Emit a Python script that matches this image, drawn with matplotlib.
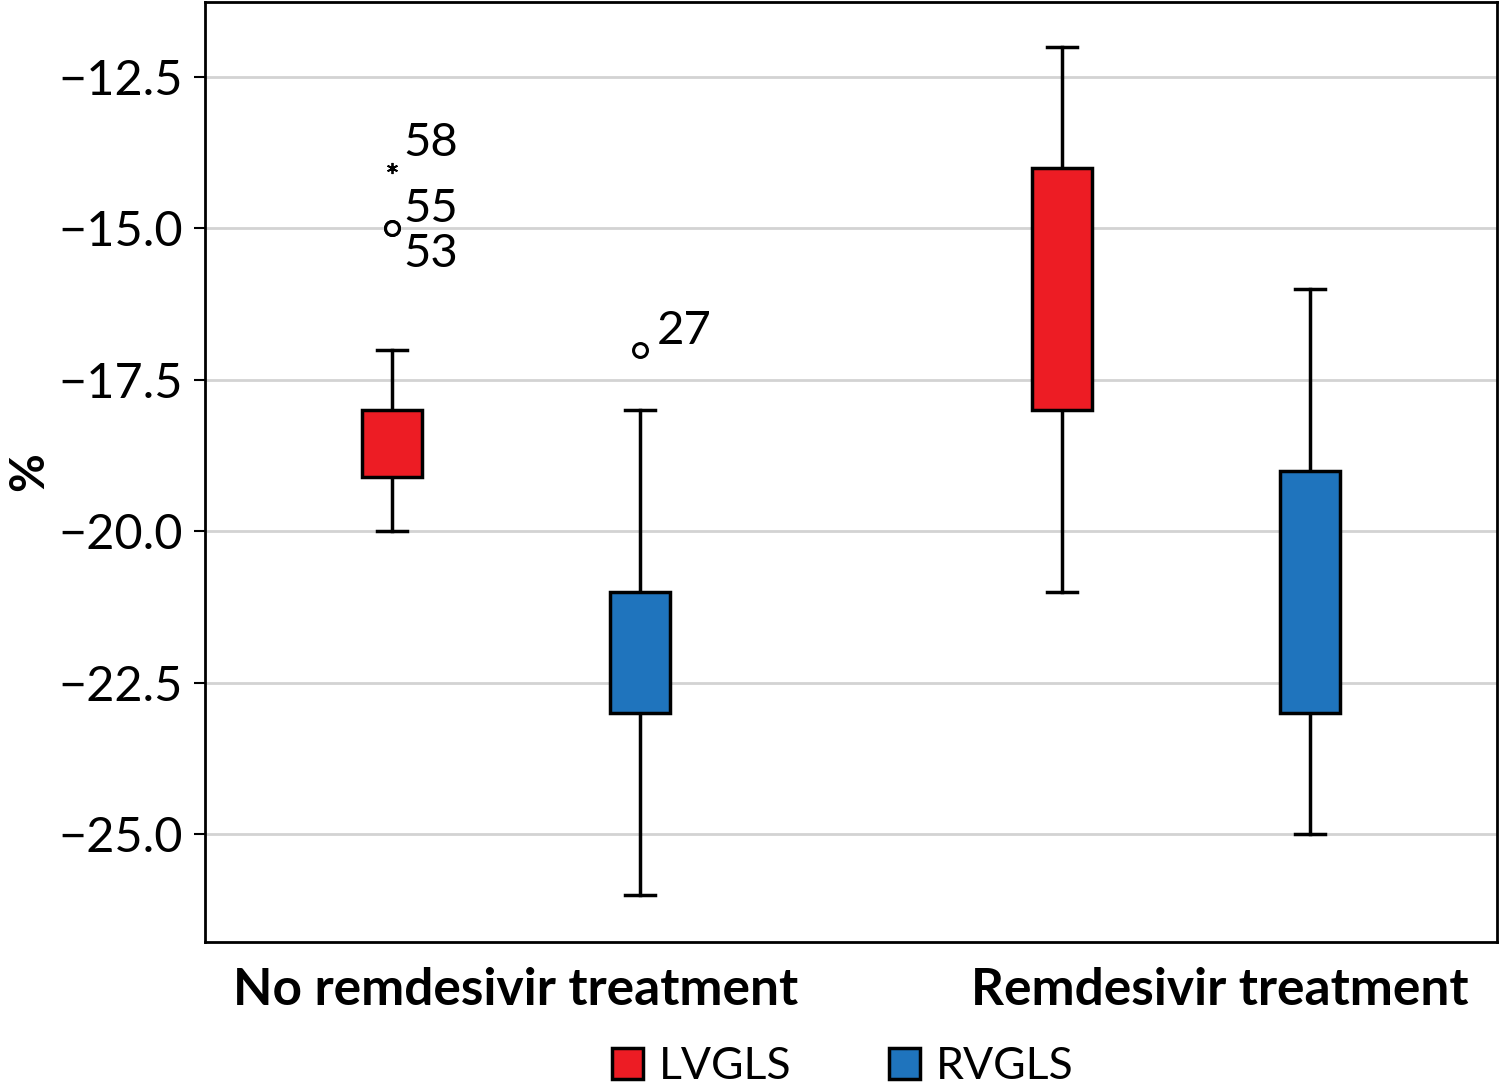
import matplotlib.pyplot as plt
import matplotlib.transforms as mtransforms
from matplotlib.patches import Patch

plt.rcParams['font.family'] = ['Lato', 'DejaVu Sans']

grupos = ["No remdesivir treatment", "Remdesivir treatment"]
series = ["LVGLS", "RVGLS"]
cores = ["#ed1c24", "#1f74bd"]

# estatisticas: [sem remdesivir, com remdesivir]
whislo = {"LVGLS": [-20.0, -21.0], "RVGLS": [-26.0, -25.0]}
q1 = {"LVGLS": [-19.1, -18.0], "RVGLS": [-23.0, -23.0]}
med = {"LVGLS": [-19.0, -16.9], "RVGLS": [-22.0, -21.0]}
q3 = {"LVGLS": [-18.0, -14.0], "RVGLS": [-21.0, -19.0]}
whishi = {"LVGLS": [-17.0, -12.0], "RVGLS": [-18.0, -16.0]}

# outliers: (serie, grupo, valor, tipo, rotulo)
outliers = [
    ("LVGLS", 0, -14.0, "extremo", "58"),
    ("LVGLS", 0, -15.0, "outlier", "55"),
    ("LVGLS", 0, -15.0, "outlier", "53"),
    ("RVGLS", 0, -17.0, "outlier", "27"),
]

fig = plt.figure(figsize=(15, 10.85), dpi=100)
ax = fig.add_axes([0.1367, 0.1318, 0.8613, 0.8664])

desloc = {"LVGLS": -0.185, "RVGLS": 0.185}
largura = 0.09

for s, cor in zip(series, cores):
    stats = []
    for g in range(len(grupos)):
        stats.append(dict(whislo=whislo[s][g], q1=q1[s][g], med=med[s][g],
                          q3=q3[s][g], whishi=whishi[s][g], fliers=[]))
    pos = [g + desloc[s] for g in range(len(grupos))]
    bp = ax.bxp(stats, positions=pos, widths=largura, patch_artist=True,
                showfliers=False, capwidths=largura * 0.5, manage_ticks=False,
                boxprops=dict(facecolor=cor, edgecolor="black", linewidth=2.5),
                medianprops=dict(color="black", linewidth=2.5),
                whiskerprops=dict(color="black", linewidth=2.5),
                capprops=dict(color="black", linewidth=2.5))
    for b in bp["boxes"]:
        b.set_zorder(3)

for s, g, v, tipo, rot in outliers:
    x = g + desloc[s]
    if tipo == "extremo":
        ax.plot(x, v, marker=(6, 2, 0), color="black", markersize=8, mew=1.3, zorder=4)
        ax.annotate(rot, (x, v), xytext=(8, 3), textcoords="offset points",
                    fontsize=34, va="bottom", ha="left")
    else:
        ax.plot(x, v, marker="o", mfc="white", mec="black", markersize=10, mew=2.2, zorder=4)
        if rot == "53":
            ax.annotate(rot, (x, v), xytext=(8, -3), textcoords="offset points",
                        fontsize=34, va="top", ha="left")
        elif rot == "27":
            ax.annotate(rot, (x, v), xytext=(12, -2), textcoords="offset points",
                        fontsize=34, va="bottom", ha="left")
        else:
            ax.annotate(rot, (x, v), xytext=(8, -1), textcoords="offset points",
                        fontsize=34, va="bottom", ha="left")

ax.set_xlim(-0.464, 1.464)
ax.set_ylim(-26.78, -11.26)
ax.set_yticks([-25.0, -22.5, -20.0, -17.5, -15.0, -12.5])
ax.set_yticklabels(["\u221225.0", "\u221222.5", "\u221220.0", "\u221217.5", "\u221215.0", "\u221212.5"])
ax.yaxis.grid(True, color="#d3d3d3", linewidth=2)
ax.set_axisbelow(True)
ax.set_xticks(range(len(grupos)))
ax.set_xticklabels(grupos, fontsize=37, fontweight="bold")
ax.tick_params(axis="x", length=0, pad=18)
ax.tick_params(axis="y", labelsize=35, length=8, width=1.5, pad=8)
for sp in ax.spines.values():
    sp.set_linewidth(2)
ax.set_ylabel("%", fontsize=34, fontweight="bold", labelpad=5)

# o segundo rotulo aparece um pouco deslocado para a direita no original
rotulo2 = ax.get_xticklabels()[1]
rotulo2.set_transform(rotulo2.get_transform() +
                      mtransforms.ScaledTranslation(0.34, 0, fig.dpi_scale_trans))

alcas = [Patch(facecolor=c, edgecolor="black", linewidth=2.5, label=s) for s, c in zip(series, cores)]
fig.legend(handles=alcas, loc="upper center", bbox_to_anchor=(0.562, 0.052), ncol=2,
           frameon=False, fontsize=32, handlelength=0.7, handleheight=0.7,
           handletextpad=0.35, columnspacing=2.2, borderaxespad=0)

plt.savefig("out.png", dpi=100)
